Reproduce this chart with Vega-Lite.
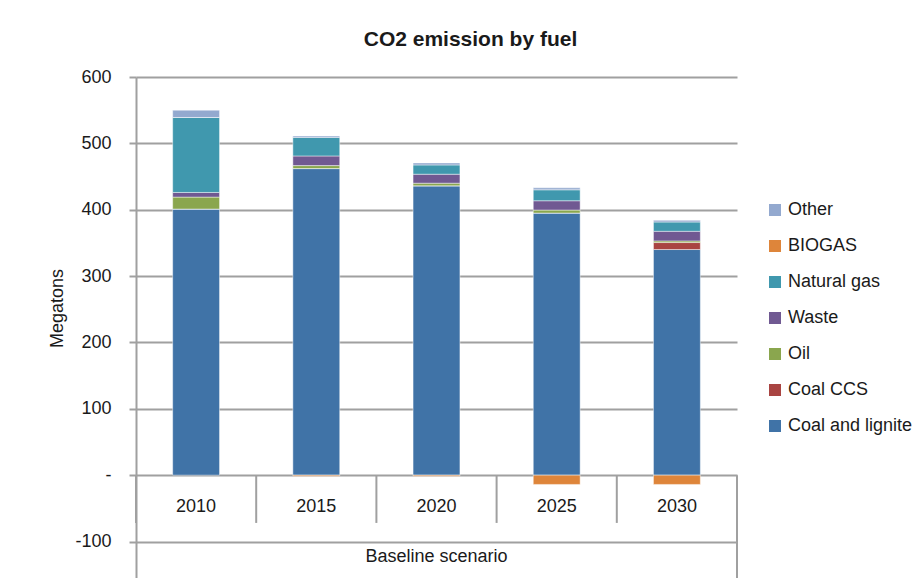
{
  "$schema": "https://vega.github.io/schema/vega-lite/v6.json",
  "autosize": {"type": "none"},
  "padding": {"left": 136, "top": 77, "right": 184, "bottom": 0},
  "width": 601,
  "height": 501,
  "background": "white",
  "title": {
    "text": "CO2 emission by fuel",
    "font": "Liberation Sans",
    "fontSize": 21,
    "fontWeight": "bold",
    "color": "#1a1a1a",
    "anchor": "middle",
    "frame": "group",
    "dx": 34,
    "offset": 18
  },
  "config": {
    "view": {"stroke": null},
    "font": "Liberation Sans"
  },
  "datasets": {
    "fuel": [
      {"year": "2010", "fuel": "Coal and lignite", "ord": 1, "value": 401},
      {"year": "2010", "fuel": "Coal CCS", "ord": 2, "value": 0},
      {"year": "2010", "fuel": "Oil", "ord": 3, "value": 18},
      {"year": "2010", "fuel": "Waste", "ord": 4, "value": 7},
      {"year": "2010", "fuel": "Natural gas", "ord": 5, "value": 113},
      {"year": "2010", "fuel": "BIOGAS", "ord": 6, "value": 0},
      {"year": "2010", "fuel": "Other", "ord": 7, "value": 11},
      {"year": "2015", "fuel": "Coal and lignite", "ord": 1, "value": 462},
      {"year": "2015", "fuel": "Coal CCS", "ord": 2, "value": 0},
      {"year": "2015", "fuel": "Oil", "ord": 3, "value": 4.5},
      {"year": "2015", "fuel": "Waste", "ord": 4, "value": 14.5},
      {"year": "2015", "fuel": "Natural gas", "ord": 5, "value": 28},
      {"year": "2015", "fuel": "BIOGAS", "ord": 6, "value": -1.5},
      {"year": "2015", "fuel": "Other", "ord": 7, "value": 2},
      {"year": "2020", "fuel": "Coal and lignite", "ord": 1, "value": 436},
      {"year": "2020", "fuel": "Coal CCS", "ord": 2, "value": 0},
      {"year": "2020", "fuel": "Oil", "ord": 3, "value": 4},
      {"year": "2020", "fuel": "Waste", "ord": 4, "value": 13.5},
      {"year": "2020", "fuel": "Natural gas", "ord": 5, "value": 14},
      {"year": "2020", "fuel": "BIOGAS", "ord": 6, "value": -1.5},
      {"year": "2020", "fuel": "Other", "ord": 7, "value": 3},
      {"year": "2025", "fuel": "Coal and lignite", "ord": 1, "value": 395},
      {"year": "2025", "fuel": "Coal CCS", "ord": 2, "value": 0},
      {"year": "2025", "fuel": "Oil", "ord": 3, "value": 4.5},
      {"year": "2025", "fuel": "Waste", "ord": 4, "value": 14},
      {"year": "2025", "fuel": "Natural gas", "ord": 5, "value": 16.5},
      {"year": "2025", "fuel": "BIOGAS", "ord": 6, "value": -14},
      {"year": "2025", "fuel": "Other", "ord": 7, "value": 3},
      {"year": "2030", "fuel": "Coal and lignite", "ord": 1, "value": 340},
      {"year": "2030", "fuel": "Coal CCS", "ord": 2, "value": 10.5},
      {"year": "2030", "fuel": "Oil", "ord": 3, "value": 2.5},
      {"year": "2030", "fuel": "Waste", "ord": 4, "value": 14.5},
      {"year": "2030", "fuel": "Natural gas", "ord": 5, "value": 14},
      {"year": "2030", "fuel": "BIOGAS", "ord": 6, "value": -14},
      {"year": "2030", "fuel": "Other", "ord": 7, "value": 2.5}
    ],
    "years": [
      {"year": "2010"}, {"year": "2015"}, {"year": "2020"}, {"year": "2025"}, {"year": "2030"}
    ],
    "group": [
      {"year": "2020", "label": "Baseline scenario"}
    ]
  },
  "encoding": {
    "x": {
      "field": "year",
      "type": "nominal",
      "scale": {"domain": ["2010", "2015", "2020", "2025", "2030"], "paddingInner": 0, "paddingOuter": 0},
      "axis": null
    }
  },
  "layer": [
    {
      "data": {"name": "fuel"},
      "mark": {"type": "bar", "width": {"band": 0.39}, "stroke": "white", "strokeOpacity": 0.45, "strokeWidth": 1},
      "encoding": {
        "y": {
          "field": "value",
          "type": "quantitative",
          "stack": "zero",
          "scale": {"domain": [-155, 600], "nice": false, "zero": false},
          "axis": {
            "title": "Megatons",
            "titleFont": "Liberation Sans",
            "titleFontSize": 18,
            "titleFontWeight": "normal",
            "titleColor": "#1a1a1a",
            "titleX": -70,
            "titleY": 231,
            "values": [-100, 0, 100, 200, 300, 400, 500, 600],
            "labelExpr": "datum.value == 0 ? '-\u00a0' : '' + datum.value",
            "labelFontSize": 18,
            "labelColor": "#1a1a1a",
            "labelPadding": 18,
            "tickSize": 7,
            "tickColor": "#a0a0a0",
            "tickWidth": 2,
            "domainColor": "#a0a0a0",
            "domainWidth": 2,
            "grid": true,
            "gridColor": "#a0a0a0",
            "gridWidth": 2
          }
        },
        "color": {
          "field": "fuel",
          "type": "nominal",
          "scale": {
            "domain": ["Other", "BIOGAS", "Natural gas", "Waste", "Oil", "Coal CCS", "Coal and lignite"],
            "range": ["#93A9CF", "#DE853A", "#4098AE", "#705992", "#8AA64E", "#A94442", "#4073A7"]
          },
          "legend": {
            "title": null,
            "orient": "none",
            "legendX": 630,
            "legendY": 124,
            "symbolType": "square",
            "symbolSize": 144,
            "symbolStrokeWidth": 0,
            "labelFontSize": 18,
            "labelColor": "#1a1a1a",
            "labelOffset": 4,
            "rowPadding": 18
          }
        },
        "order": {"field": "ord", "type": "quantitative"}
      }
    },
    {
      "data": {"name": "years"},
      "mark": {"type": "rule", "color": "#a0a0a0", "strokeWidth": 2},
      "encoding": {
        "x": {"field": "year", "type": "nominal", "bandPosition": 0},
        "y": {"datum": 0},
        "y2": {"datum": -72}
      }
    },
    {
      "data": {"name": "years"},
      "transform": [{"filter": "datum.year == '2030'"}],
      "mark": {"type": "rule", "color": "#a0a0a0", "strokeWidth": 2},
      "encoding": {
        "x": {"field": "year", "type": "nominal", "bandPosition": 1},
        "y": {"datum": 0},
        "y2": {"datum": -155}
      }
    },
    {
      "data": {"name": "years"},
      "mark": {"type": "text", "fontSize": 18, "color": "#1a1a1a", "baseline": "middle"},
      "encoding": {
        "text": {"field": "year"},
        "y": {"datum": -48}
      }
    },
    {
      "data": {"name": "group"},
      "mark": {"type": "text", "fontSize": 18, "color": "#1a1a1a", "baseline": "middle"},
      "encoding": {
        "text": {"field": "label"},
        "y": {"datum": -124}
      }
    }
  ]
}
